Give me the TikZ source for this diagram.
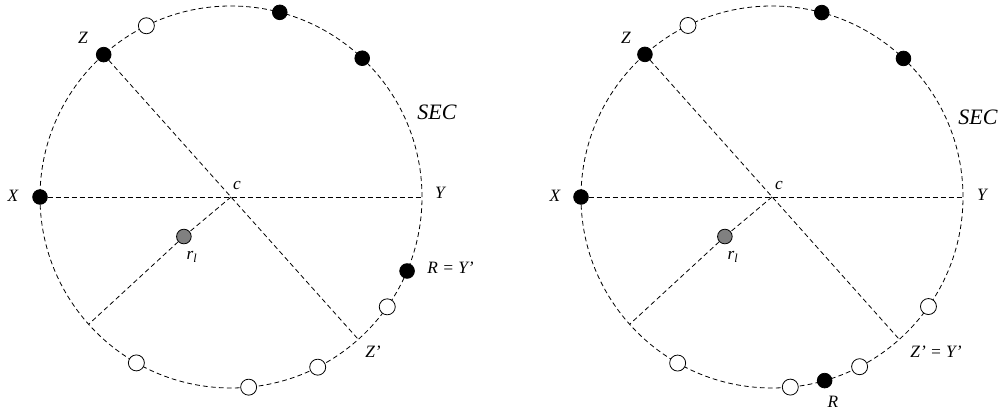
\documentclass[tikz,border=0pt]{standalone}
\usepackage{fontspec}
\setmainfont{Liberation Serif}
\usepackage{tikz}
\tikzset{every picture/.style={line width=0.6pt}}
\tikzset{dashline/.style={dash pattern=on 3.6pt off 2.4pt}}
\tikzset{fullpt/.style={draw, circle, fill=black, inner sep=0pt, minimum size=11pt}}
\tikzset{emptypt/.style={draw, circle, fill=white, inner sep=0pt, minimum size=12pt}}
\tikzset{robotpt/.style={draw, circle, fill=gray, inner sep=0pt, minimum size=11pt}}
\tikzset{lbl/.style={font=\itshape\fontsize{13}{15}\selectfont, inner sep=0pt}}
\tikzset{biglbl/.style={font=\itshape\fontsize{16.5}{19}\selectfont, inner sep=0pt}}

\begin{document}
\begin{tikzpicture}[x=0.75pt, y=0.75pt]
\useasboundingbox (0,0) rectangle (1004,416);
% left configuration
\begin{scope}[shift={(231,219)}]
\coordinate (c) at (0,0);
\draw[dashline] (c) circle (191);
\node[emptypt] (1) at (116.3:191) {};
\node[fullpt] (2) at (75.2:191) {};
\node[fullpt] (3) at (46.6:191) {};
\node[fullpt] (Z) at (131.8:191) {};
\node[fullpt] (X) at (180:191) {};
\node[fullpt] (R) at (-22.8:191) {};
\node[emptypt] (4) at (-35.1:191) {};
\node[emptypt] (5) at (-63:191) {};
\node[emptypt] (6) at (-84.7:191) {};
\node[emptypt] (7) at (-119.7:191) {};
\node[robotpt] (r1) at (220:61.5) {};
\coordinate (Y) at (0:191);
\coordinate (Z') at (-48.2:191);
\coordinate (F) at (221.8:191);
\draw[dashline] (X) -- (Y);
\draw[dashline] (Z) -- (Z');
\draw[dashline] (c) -- (r1) -- (F);
\end{scope}
\node[lbl] (lZ) at (83,378) {Z};
\node[lbl] (lX) at (13,220) {X};
\node[lbl] (lY) at (440,223) {Y};
\node[lbl] (lc) at (237,230) {c};
\node[lbl] (lr1) at (192,159) {r\textsubscript{\itshape l}};
\node[lbl, anchor=west] (lR) at (427,148) {R = Y’};
\node[lbl] (lZp) at (373,64) {Z’};
\node[biglbl] (lSEC) at (437,304) {SEC};
% right configuration
\begin{scope}[shift={(772,219)}]
\coordinate (c2) at (0,0);
\draw[dashline] (c2) circle (191);
\node[emptypt] (21) at (116.1:191) {};
\node[fullpt] (22) at (74.9:191) {};
\node[fullpt] (23) at (46.5:191) {};
\node[fullpt] (Z2) at (131.7:191) {};
\node[fullpt] (X2) at (180:191) {};
\node[emptypt] (24) at (-35:191) {};
\node[emptypt] (25) at (-62.7:191) {};
\node[fullpt] (R2) at (-74:191) {};
\node[emptypt] (26) at (-84.5:191) {};
\node[emptypt] (27) at (-119.6:191) {};
\node[robotpt] (r2) at (220:61.5) {};
\coordinate (Y2) at (0:191);
\coordinate (Z'2) at (-48.2:191);
\coordinate (F2) at (221.8:191);
\draw[dashline] (X2) -- (Y2);
\draw[dashline] (Z2) -- (Z'2);
\draw[dashline] (c2) -- (r2) -- (F2);
\end{scope}
\node[lbl] (rZ) at (626,378) {Z};
\node[lbl] (rX) at (555,220) {X};
\node[lbl] (rY) at (982,221) {Y};
\node[lbl] (rc) at (779,230) {c};
\node[lbl] (rr1) at (733,159) {r\textsubscript{\itshape l}};
\node[lbl, anchor=west] (rZp) at (910,64) {Z’ = Y’};
\node[lbl] (rR) at (833,14) {R};
\node[biglbl] (rSEC) at (978,299) {SEC};
\end{tikzpicture}
\end{document}
